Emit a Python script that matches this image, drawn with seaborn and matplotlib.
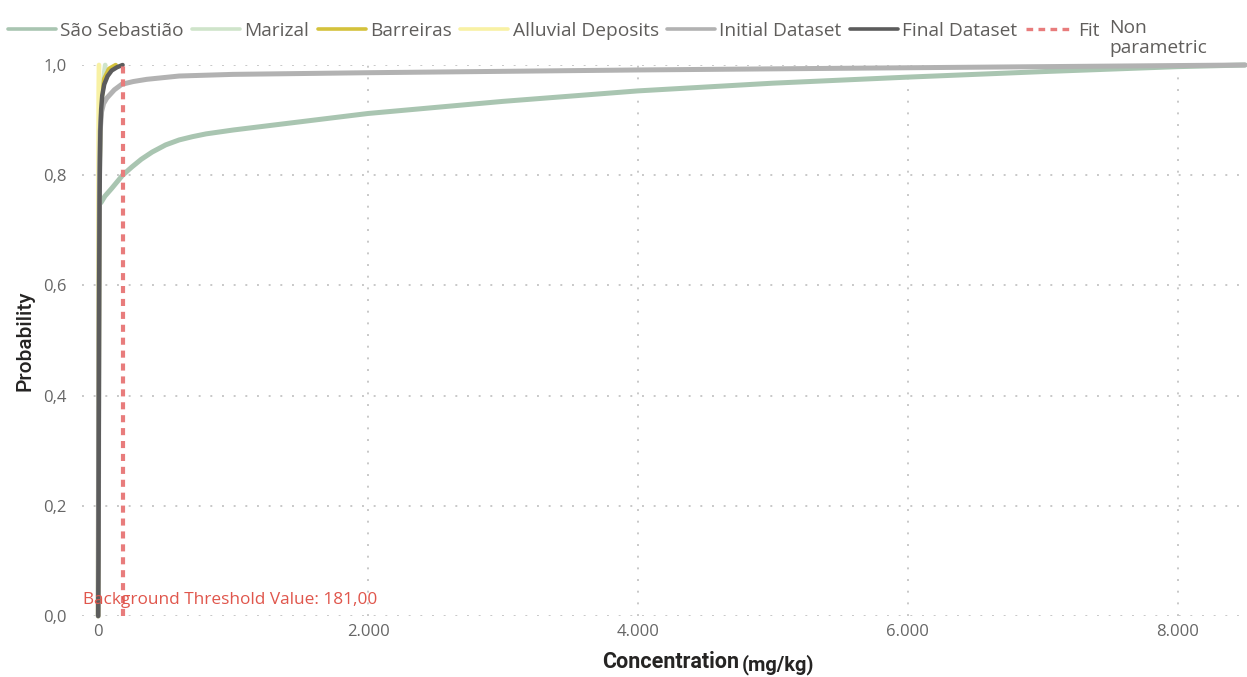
import numpy as np
import pandas as pd
import matplotlib
matplotlib.use("Agg")
import matplotlib.pyplot as plt
from matplotlib.lines import Line2D
import seaborn as sns

# Cumulative distributions of concentration (mg/kg) per geological unit
sao_sebastiao_x = [20, 50, 100, 181, 250, 320, 400, 500, 600, 700, 800, 1000, 1500, 2000, 3000, 4000, 5000, 6000, 7000, 8000, 8500]
sao_sebastiao_y = [0.75, 0.762, 0.776, 0.80, 0.815, 0.829, 0.842, 0.855, 0.864, 0.870, 0.875, 0.882, 0.897, 0.912, 0.934, 0.953, 0.967, 0.978, 0.988, 0.997, 1.0]

marizal_x = [0, 3, 6, 10, 15, 22, 35, 52]
marizal_y = [0, 0.3, 0.6, 0.8, 0.88, 0.93, 0.965, 1.0]

barreiras_x = [0, 3, 6, 10, 15, 25, 45, 80, 130]
barreiras_y = [0, 0.3, 0.6, 0.8, 0.88, 0.94, 0.975, 0.993, 1.0]

alluvial_x = [0, 1, 2, 3, 4, 6]
alluvial_y = [0, 0.3, 0.6, 0.85, 0.95, 1.0]

initial_x = [0, 3, 6, 10, 15, 25, 40, 64, 120, 175, 260, 360, 600, 1000, 2000, 4000, 6000, 8000, 8500]
initial_y = [0, 0.3, 0.6, 0.8, 0.88, 0.915, 0.93, 0.94, 0.955, 0.965, 0.970, 0.974, 0.980, 0.983, 0.986, 0.991, 0.995, 0.999, 1.0]

final_x = [0, 2, 4, 6, 8, 10, 13, 16, 22, 30, 45, 70, 100, 140, 181]
final_y = [0, 0.1, 0.3, 0.5, 0.65, 0.75, 0.83, 0.88, 0.92, 0.945, 0.965, 0.98, 0.99, 0.996, 1.0]

threshold = 181.0

series_names = ["São Sebastião", "Marizal", "Barreiras", "Alluvial Deposits", "Initial Dataset", "Final Dataset"]
series_x = [sao_sebastiao_x, marizal_x, barreiras_x, alluvial_x, initial_x, final_x]
series_y = [sao_sebastiao_y, marizal_y, barreiras_y, alluvial_y, initial_y, final_y]
series_colors = ["#a9c5b1", "#cfe4ca", "#d4c23c", "#f8f1a4", "#b2b2b2", "#5c5c5c"]
series_widths = [3.6, 3.4, 3.2, 3.4, 3.6, 3.2]
fit_color = "#e87c7c"

sns.set_theme(style="white")
plt.rcParams["font.family"] = ["Open Sans", "DejaVu Sans"]

W, H = 1247, 677
fig = plt.figure(figsize=(W / 100, H / 100), dpi=100)
ax = fig.add_axes([82 / W, 1 - 616 / H, (1245 - 82) / W, (616 - 65) / H])

for name, xs, ys, c, lw in zip(series_names, series_x, series_y, series_colors, series_widths):
    df = pd.DataFrame({"x": xs, "y": ys})
    sns.lineplot(data=df, x="x", y="y", ax=ax, color=c, lw=lw, sort=False,
                 estimator=None, legend=False, clip_on=False, solid_capstyle="round",
                 solid_joinstyle="round")

# Non-parametric fit threshold
fit_df = pd.DataFrame({"x": [threshold, threshold], "y": [0.0, 1.0]})
sns.lineplot(data=fit_df, x="x", y="y", ax=ax, color=fit_color, lw=3.0,
             dashes=False, estimator=None, legend=False, clip_on=False)
ax.lines[-1].set_linestyle((0, (1.7, 1.4)))

ax.text(-112, 0.029, f"Background Threshold Value: {threshold:,.2f}".replace(".", ","),
        color="#e0564c", fontsize=12.4, ha="left", va="center")

ax.set_xlim(-120, 8500)
ax.set_ylim(0, 1)
xt = [0, 2000, 4000, 6000, 8000]
ax.set_xticks(xt)
ax.set_xticklabels([f"{v:,}".replace(",", ".") for v in xt])
yt = [0, 0.2, 0.4, 0.6, 0.8, 1.0]
ax.set_yticks(yt)
ax.set_yticklabels([f"{v:.1f}".replace(".", ",") for v in yt])
ax.tick_params(axis="both", length=0, labelsize=12, labelcolor="#666666")
ax.tick_params(axis="y", pad=11)
ax.tick_params(axis="x", pad=6)
ax.grid(True, color="#c8c8c8", linestyle=(0, (1, 5)), lw=1.4)
ax.set_axisbelow(True)
for s in ax.spines.values():
    s.set_visible(False)
ax.set_xlabel("")
ax.set_ylabel("")

fig.text(25 / W, 1 - 341 / H, "Probability", rotation=90, ha="center", va="center",
         fontsize=15, color="#252423", family=["Roboto", "DejaVu Sans"], weight="medium")
fig.text(739 / W, 1 - 662 / H, "Concentration", ha="right", va="center",
         fontsize=15.5, color="#252423", family=["Roboto", "DejaVu Sans"], weight="bold")
fig.text(742 / W, 1 - 665 / H, "(mg/kg)", ha="left", va="center",
         fontsize=14.5, color="#252423", family=["Roboto", "DejaVu Sans"], weight="bold")

handles = [Line2D([], [], color=c, lw=2.6) for c in series_colors]
handles.append(Line2D([], [], color=fit_color, lw=2.4, linestyle=(0, (2.0, 1.6))))
labels = series_names + ["Fit"]
fig.legend(handles, labels, loc="center left", bbox_to_anchor=(8 / W, 1 - 31 / H),
           ncol=7, frameon=False, fontsize=13.8, handlelength=2.5, handletextpad=0.22,
           columnspacing=0.45, borderpad=0, borderaxespad=0, labelcolor="#605e5c")
fig.text(1109 / W, 1 - 38 / H, "Non\nparametric", ha="left", va="center",
         fontsize=13.8, color="#605e5c", linespacing=1.2)

fig.savefig("out.png", dpi=100)
